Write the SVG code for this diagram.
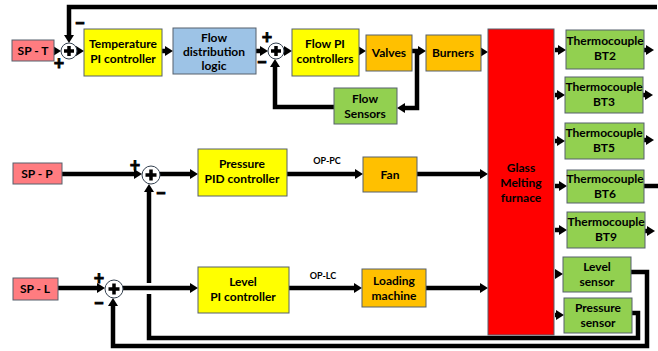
<svg xmlns="http://www.w3.org/2000/svg" width="658" height="351" viewBox="0 0 658 351">
<style>
.box{stroke:#56606c;stroke-width:1}
.sp{fill:#ff7c80}
.yl{fill:#ffff00}
.bl{fill:#9dc3e6}
.or{fill:#ffc000}
.gr{fill:#92d050}
.rd{fill:#ff0000}
text{font-family:Lato,"Liberation Sans",sans-serif;font-weight:bold;font-size:12px;fill:#000;text-anchor:middle}
.sm{font-size:9px}
.sg{font-size:18px;dominant-baseline:central;stroke:#000;stroke-width:0.8}
.ln{fill:none;stroke:#000;stroke-width:4.5}
.ar{marker-end:url(#ah)}
.sum{fill:#fff;stroke:#33404f;stroke-width:1}
.cr{stroke:#000;stroke-width:3.5;fill:none}
</style>
<defs>
<marker id="ah" markerUnits="userSpaceOnUse" markerWidth="9" markerHeight="10" refX="2" refY="5" orient="auto">
<path d="M0,0 L8,5 L0,10 z" fill="#000"/>
</marker>
</defs>

<g id="connectors">
<path class="ln ar" d="M54,51 H55"/>
<path class="ln ar" d="M77,51 H78"/>
<path class="ln ar" d="M657,7 H69 V37"/>
<path class="ln ar" d="M162,51 H167"/>
<path class="ln ar" d="M256,51 H262"/>
<path class="ln ar" d="M284,51 H286"/>
<path class="ln ar" d="M359,51 H360"/>
<path class="ln ar" d="M412,51 H420"/>
<path class="ln ar" d="M417,51 V108 H403"/>
<path class="ln ar" d="M334,107 H275 V65"/>
<path class="ln ar" d="M481,52 H482"/>
<path class="ln ar" d="M555,50 H560"/>
<path class="ln ar" d="M555,95 H559"/>
<path class="ln ar" d="M555,141 H559"/>
<path class="ln ar" d="M555,186 H561"/>
<path class="ln ar" d="M555,230 H561"/>
<path class="ln ar" d="M555,274 H557"/>
<path class="ln ar" d="M555,315 H558"/>
<path class="ln ar" d="M644,50 H648"/>
<path class="ln ar" d="M643,95 H647"/>
<path class="ln ar" d="M644,140 H648"/>
<path class="ln ar" d="M645,231 H649"/>
<path class="ln" d="M644,186 H658"/>
<path class="ln ar" d="M62,174 H136"/>
<path class="ln ar" d="M160,174 H192"/>
<path class="ln ar" d="M287,174 H357"/>
<path class="ln ar" d="M417,174 H482"/>
<path class="ln" d="M632,313 H638 V338 H149 V294"/>
<path class="ln ar" d="M149,283 V190"/>
<path class="ln ar" d="M58,288 H99"/>
<path class="ln ar" d="M123,288 H192"/>
<path class="ln ar" d="M289,288 H356"/>
<path class="ln ar" d="M426,288 H482"/>
<path class="ln ar" d="M631,272 H647 V346 H113 V304"/>
<text class="sm" x="327" y="164">OP-PC</text>
<text class="sm" x="323" y="279">OP-LC</text>
</g>

<g id="sp-t"><rect class="box sp" x="12" y="40" width="42" height="21"/><text x="33" y="55">SP - T</text></g>
<g id="sum-t"><circle class="sum" cx="69" cy="51" r="8"/><path class="cr" d="M64,51 H74 M69,46 V56"/><text class="sg" x="80" y="23">−</text><text class="sg" x="59" y="63">+</text></g>
<g id="temp-pi"><rect class="box yl" x="84" y="29" width="78" height="47"/><text x="123" y="48">Temperature</text><text x="123" y="63">PI controller</text></g>
<g id="flow-logic"><rect class="box bl" x="173" y="28" width="83" height="46"/><text x="214" y="42">Flow</text><text x="214" y="56">distribution</text><text x="214" y="70">logic</text></g>
<g id="sum-f"><circle class="sum" cx="276" cy="51" r="8"/><path class="cr" d="M271,51 H281 M276,46 V56"/><text class="sg" x="267" y="37">+</text><text class="sg" x="262" y="62">−</text></g>
<g id="flow-pi"><rect class="box yl" x="292" y="29" width="67" height="47"/><text x="325" y="48">Flow PI</text><text x="325" y="63">controllers</text></g>
<g id="valves"><rect class="box or" x="366" y="35" width="46" height="36"/><text x="389" y="57">Valves</text></g>
<g id="burners"><rect class="box or" x="426" y="35" width="55" height="36"/><text x="453" y="57">Burners</text></g>
<g id="flow-sensors"><rect class="box gr" x="334" y="88" width="63" height="36"/><text x="365" y="103">Flow</text><text x="365" y="118">Sensors</text></g>
<g id="furnace"><rect class="box rd" x="488" y="29" width="66" height="306"/><text x="521" y="172">Glass</text><text x="521" y="187">Melting</text><text x="521" y="202">furnace</text></g>
<g id="bt2"><rect class="box gr" x="566" y="30" width="78" height="39"/><text x="605" y="45">Thermocouple</text><text x="605" y="60">BT2</text></g>
<g id="bt3"><rect class="box gr" x="565" y="77" width="78" height="36"/><text x="604" y="91">Thermocouple</text><text x="604" y="106">BT3</text></g>
<g id="bt5"><rect class="box gr" x="565" y="123" width="79" height="36"/><text x="604" y="137">Thermocouple</text><text x="604" y="152">BT5</text></g>
<g id="bt6"><rect class="box gr" x="567" y="170" width="77" height="33"/><text x="605" y="183">Thermocouple</text><text x="605" y="198">BT6</text></g>
<g id="bt9"><rect class="box gr" x="567" y="212" width="78" height="36"/><text x="606" y="226">Thermocouple</text><text x="606" y="241">BT9</text></g>
<g id="level-sensor"><rect class="box gr" x="563" y="257" width="68" height="35"/><text x="597" y="271">Level</text><text x="597" y="286">sensor</text></g>
<g id="pressure-sensor"><rect class="box gr" x="564" y="298" width="68" height="35"/><text x="598" y="312">Pressure</text><text x="598" y="327">sensor</text></g>
<g id="sp-p"><rect class="box sp" x="13" y="163" width="49" height="21"/><text x="37" y="178">SP - P</text></g>
<g id="sum-p"><circle class="sum" cx="151" cy="175" r="9"/><path class="cr" d="M145.5,175 H156.5 M151,169.5 V180.5"/><text class="sg" x="135" y="165">+</text><text class="sg" x="161" y="193">−</text></g>
<g id="pressure-pid"><rect class="box yl" x="198" y="149" width="89" height="47"/><text x="242" y="168">Pressure</text><text x="242" y="183">PID controller</text></g>
<g id="fan"><rect class="box or" x="363" y="157" width="54" height="35"/><text x="390" y="179">Fan</text></g>
<g id="sp-l"><rect class="box sp" x="13" y="278" width="45" height="22"/><text x="35" y="293">SP - L</text></g>
<g id="sum-l"><circle class="sum" cx="114" cy="289" r="9"/><path class="cr" d="M108.5,289 H119.5 M114,283.5 V294.5"/><text class="sg" x="99" y="278">+</text><text class="sg" x="99" y="303">−</text></g>
<g id="level-pi"><rect class="box yl" x="198" y="267" width="91" height="46"/><text x="243" y="286">Level</text><text x="243" y="301">PI controller</text></g>
<g id="loading"><rect class="box or" x="362" y="269" width="64" height="38"/><text x="394" y="285">Loading</text><text x="394" y="300">machine</text></g>
</svg>
